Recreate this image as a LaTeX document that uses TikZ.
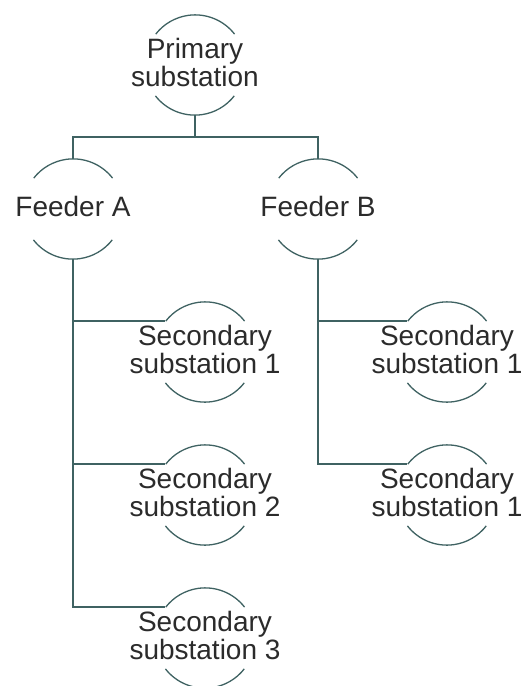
\documentclass[tikz,border=0pt]{standalone}
\usepackage{fontspec}
\setmainfont{Liberation Sans}
\definecolor{wire}{HTML}{3F6262}
\definecolor{ink}{HTML}{2B2B2B}
\begin{document}
\begin{tikzpicture}[x=1pt,y=1pt,
  ring/.style={circle,minimum size=100pt,inner sep=0pt},
  label/.style={font=\fontsize{28}{28}\selectfont,text=ink,align=center,inner sep=0pt,yshift=3pt},
  wireline/.style={draw=wire,line width=1.6pt},
  arcline/.style={draw=wire,line width=1.3pt}]
\path[use as bounding box] (0,0) rectangle (527,-686);

% station rings
\node[ring] (P)  at (195,-65)  {};
\node[ring] (FA) at (73,-209)  {};
\node[ring] (FB) at (318,-209) {};
\node[ring] (A1) at (205,-352) {};
\node[ring] (A2) at (205,-495) {};
\node[ring] (A3) at (205,-638) {};
\node[ring] (B1) at (447,-352) {};
\node[ring] (B2) at (447,-495) {};

% upper and lower arcs of every ring
\foreach \n in {P,FA,FB,A1,A2,A3,B1,B2}{
  \draw[arcline] (\n.38) arc[start angle=38,end angle=142,radius=50pt];
  \draw[arcline] (\n.218) arc[start angle=218,end angle=322,radius=50pt];
}

% labels
\node[label] (tP)  at (P)  {Primary\\substation};
\node[label] (tFA) at (FA) {Feeder A};
\node[label] (tFB) at (FB) {Feeder B};
\node[label] (tA1) at (A1) {Secondary\\substation 1};
\node[label] (tA2) at (A2) {Secondary\\substation 2};
\node[label] (tA3) at (A3) {Secondary\\substation 3};
\node[label] (tB1) at (B1) {Secondary\\substation 1};
\node[label] (tB2) at (B2) {Secondary\\substation 1};

% bus from the primary substation to the feeders
\coordinate (bus) at ([yshift=-22pt]P.south);
\draw[wireline] (P.south) -- (bus);
\draw[wireline] (bus) -| (FA.north);
\draw[wireline] (bus) -| (FB.north);

% feeder branches to the secondary substations
\foreach \s in {A1,A2,A3}
  \draw[wireline] (FA.south) |- (\s.142);
\foreach \s in {B1,B2}
  \draw[wireline] (FB.south) |- (\s.142);
\end{tikzpicture}
\end{document}
